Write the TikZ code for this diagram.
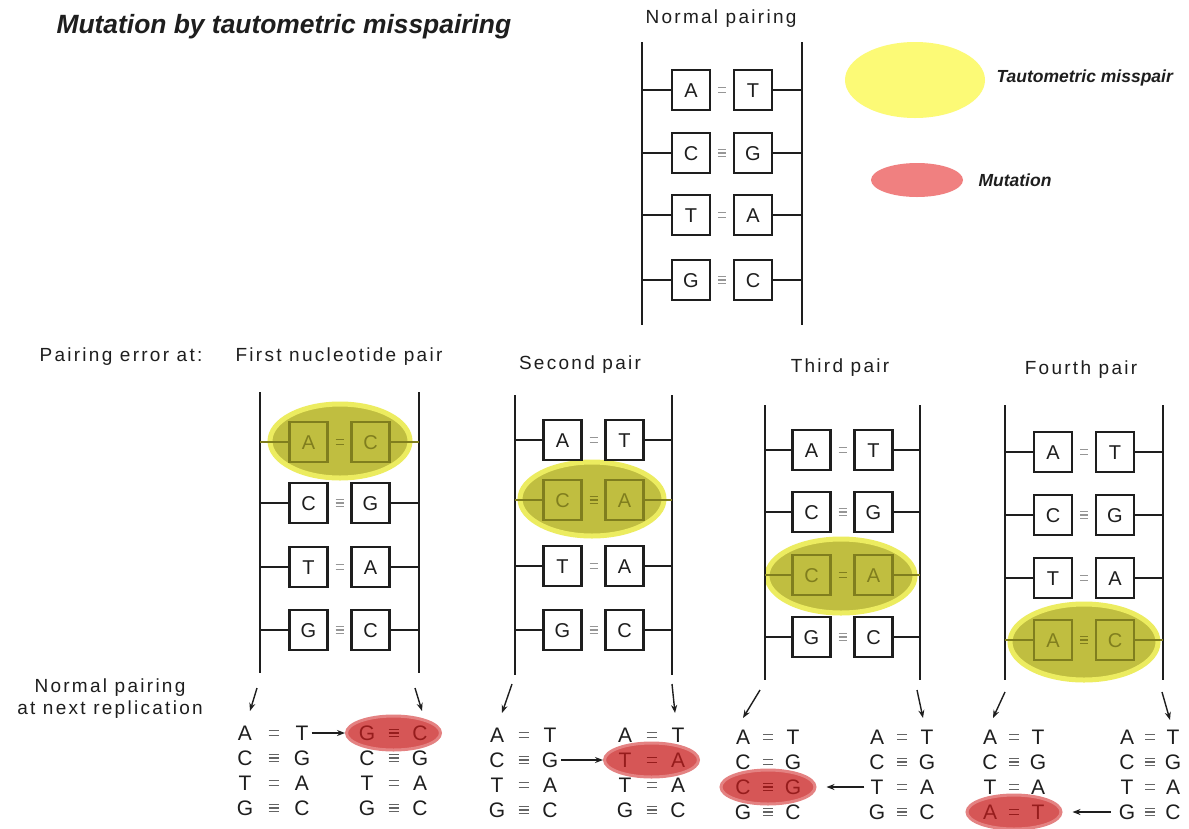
\documentclass[tikz,border=0pt]{standalone}
\usepackage{fontspec}
\setmainfont{Liberation Sans}
\newfontfamily\spaced[LetterSpace=12]{Liberation Sans}
\usetikzlibrary{calc,arrows.meta,shapes.geometric}

\definecolor{misfill}{RGB}{192,190,64}
\definecolor{misglow}{RGB}{236,236,96}
\definecolor{misink}{RGB}{128,126,30}
\definecolor{mutfill}{RGB}{214,86,86}
\definecolor{mutglow}{RGB}{228,130,130}
\definecolor{mutink}{RGB}{150,28,28}
\definecolor{legyellow}{RGB}{252,250,118}
\definecolor{legred}{RGB}{240,128,128}
\definecolor{bondgray}{RGB}{150,150,150}
\definecolor{listgray}{RGB}{100,100,100}
\definecolor{ink}{RGB}{30,30,30}

\tikzset{
  rail/.style={line width=2.6pt, draw=ink},
  rung/.style={line width=2pt},
  base/.style={draw, line width=2.2pt, minimum width=38pt, minimum height=40pt,
    inner sep=0pt, font=\fontsize{20}{20}\selectfont, text height=14.3pt, text depth=0pt},
  listletter/.style={inner sep=0pt, font=\fontsize{21}{21}\selectfont,
    text height=15pt, text depth=0pt},
  misspair/.style={ellipse, fill=misfill, draw=misglow, line width=5pt, inner sep=0pt},
  mutation/.style={ellipse, fill=mutfill, draw=mutglow, line width=3pt, inner sep=0pt,
    minimum width=94pt, minimum height=34pt},
  header/.style={font=\spaced\fontsize{19}{19}\selectfont, text=ink},
  legendtext/.style={anchor=west, font=\fontsize{17.5}{17.5}\selectfont\bfseries\itshape, text=ink},
  arr/.style={line width=1.4pt, draw=ink, -{Stealth[length=8pt,width=6pt]}},
}

% short strokes for hydrogen bonds: #1 centre, #2 number of strokes, #3 half length, #4 colour
\newcommand\bondmark[4]{%
  \ifnum#2=3
    \foreach \dy in {-3.4,0,3.4}
      \draw[#4, line width=1.3pt] ($(#1)+(-#3,\dy)$) -- ($(#1)+(#3,\dy)$);
  \else
    \foreach \dy in {-2.2,2.2}
      \draw[#4, line width=1.3pt] ($(#1)+(-#3,\dy)$) -- ($(#1)+(#3,\dy)$);
  \fi}

% ladder: #1 name, #2 left rail x, #3 right rail x, #4 top y, #5 bottom y,
% #6 rows as y/left base/right base/bonds/mispaired(0 or 1)
\newcommand\ladder[6]{%
  \coordinate (#1-lt) at (#2,#4);
  \coordinate (#1-lb) at (#2,#5);
  \coordinate (#1-rt) at (#3,#4);
  \coordinate (#1-rb) at (#3,#5);
  \draw[rail] (#1-lt) -- (#1-lb);
  \draw[rail] (#1-rt) -- (#1-rb);
  \foreach \y/\l/\r/\n/\m [count=\i] in {#6} {
    \ifnum\m=1 \def\col{misink}\def\bcol{misink}\else\def\col{ink}\def\bcol{bondgray}\fi
    \node[base, draw=\col, text=\col] (#1-\i-l) at ({(#2+#3)/2-31},\y) {\l};
    \node[base, draw=\col, text=\col] (#1-\i-r) at ({(#2+#3)/2+31},\y) {\r};
    \coordinate (#1-\i-b) at ($(#1-\i-l)!0.5!(#1-\i-r)$);
    \draw[rung, draw=\col] (#1-\i-l.west) -- (#1-\i-l.west -| #1-lt);
    \draw[rung, draw=\col] (#1-\i-r.east) -- (#1-\i-r.east -| #1-rt);
    \bondmark{#1-\i-b}{\n}{4}{\bcol}
  }}

% list of base pairs: #1 name, #2 x of left letters, #3 letter spacing, #4 y of first row,
% #5 rows as left/bonds/right/mutated(0 or 1)
\newcommand\pairlist[5]{%
  \foreach \l/\n/\r/\m [count=\i] in {#5} {
    \pgfmathsetmacro\yy{#4+(\i-1)*25}
    \ifnum\m=1
      \node[mutation] (#1-mut) at ({#2+#3/2},\yy) {};
      \def\col{mutink}\def\bcol{mutink}
    \else\def\col{ink}\def\bcol{listgray}\fi
    \node[listletter, text=\col] (#1-\i-l) at (#2,\yy) {\l};
    \node[listletter, text=\col] (#1-\i-r) at ({#2+#3},\yy) {\r};
    \coordinate (#1-\i-b) at ($(#1-\i-l)!0.5!(#1-\i-r)$);
    \bondmark{#1-\i-b}{\n}{5}{\bcol}
  }}

\begin{document}
\begin{tikzpicture}[x=1pt, y=-1pt]
  \fill[white] (0,0) rectangle (1189,828);
  \useasboundingbox (0,0) rectangle (1189,828);

  % title and legend
  \node[anchor=west, font=\fontsize{26.4}{26.4}\selectfont\bfseries\itshape, text=ink] (title)
    at (53,27) {Mutation by tautometric misspairing};
  \node[ellipse, fill=legyellow, minimum width=140pt, minimum height=76pt, inner sep=0pt]
    (legmis) at (915,80) {};
  \node[legendtext] (legmistext) at (993,78) {Tautometric misspair};
  \node[ellipse, fill=legred, minimum width=92pt, minimum height=34pt, inner sep=0pt]
    (legmut) at (917,180) {};
  \node[legendtext] (legmuttext) at (975,180) {Mutation};

  % normal pairing
  \node[header] (normaltitle) at (721,19) {Normal pairing};
  \ladder{N}{642}{802}{42}{325}{90/A/T/2/0, 153/C/G/3/0, 215/T/A/2/0, 280/G/C/3/0}

  % headings of the four cases
  \node[header] (errlabel) at (121,357) {Pairing error at:};
  \node[header] (h1) at (339,357) {First nucleotide pair};
  \node[header] (h2) at (580,365) {Second pair};
  \node[header] (h3) at (840,368) {Third pair};
  \node[header] (h4) at (1081,370) {Fourth pair};

  % misspaired rungs
  \node[misspair, minimum width=140pt, minimum height=74pt] (s1) at (340,441) {};
  \node[misspair, minimum width=144pt, minimum height=74pt] (s2) at (592,499) {};
  \node[misspair, minimum width=148pt, minimum height=74pt] (s3) at (841,576) {};
  \node[misspair, minimum width=148pt, minimum height=76pt] (s4) at (1084,642) {};

  \ladder{L1}{260}{419}{392}{673}{442/A/C/2/1, 503/C/G/3/0, 567/T/A/2/0, 630/G/C/3/0}
  \ladder{L2}{515}{672}{395}{675}{440/A/T/2/0, 500/C/A/3/1, 566/T/A/2/0, 630/G/C/3/0}
  \ladder{L3}{765}{920}{405}{680}{450/A/T/2/0, 512/C/G/3/0, 575/C/A/2/1, 637/G/C/3/0}
  \ladder{L4}{1005}{1163}{405}{680}{452/A/T/2/0, 515/C/G/3/0, 578/T/A/2/0, 640/A/C/3/1}

  % next replication
  \node[header, align=center, font=\spaced\fontsize{19}{22}\selectfont] (nextlabel)
    at (110,699) {Normal pairing\\at next replication};

  \pairlist{P1L}{245}{57}{733}{A/2/T/0, C/3/G/0, T/2/A/0, G/3/C/0}
  \pairlist{P1R}{367}{53}{733}{G/3/C/1, C/3/G/0, T/2/A/0, G/3/C/0}
  \pairlist{P2L}{497}{53}{735}{A/2/T/0, C/3/G/0, T/2/A/0, G/3/C/0}
  \pairlist{P2R}{625}{53}{735}{A/2/T/0, T/2/A/1, T/2/A/0, G/3/C/0}
  \pairlist{P3L}{743}{50}{737}{A/2/T/0, C/2/G/0, C/3/G/1, G/3/C/0}
  \pairlist{P3R}{877}{50}{737}{A/2/T/0, C/3/G/0, T/2/A/0, G/3/C/0}
  \pairlist{P4L}{990}{48}{737}{A/2/T/0, C/3/G/0, T/2/A/0, A/2/T/1}
  \pairlist{P4R}{1127}{46}{737}{A/2/T/0, C/3/G/0, T/2/A/0, G/3/C/0}

  % strands carried into the next replication
  \coordinate (a1ls) at (257,688); \coordinate (a1le) at (250,711);
  \coordinate (a1rs) at (415,688); \coordinate (a1re) at (422,711);
  \coordinate (a2ls) at (512,684); \coordinate (a2le) at (502,713);
  \coordinate (a2rs) at (672,684); \coordinate (a2re) at (675,713);
  \coordinate (a3ls) at (760,690); \coordinate (a3le) at (743,718);
  \coordinate (a3rs) at (917,690); \coordinate (a3re) at (923,718);
  \coordinate (a4ls) at (1005,692); \coordinate (a4le) at (993,718);
  \coordinate (a4rs) at (1162,692); \coordinate (a4re) at (1170,720);
  \foreach \k in {1,2,3,4} {
    \draw[arr] (a\k ls) -- (a\k le);
    \draw[arr] (a\k rs) -- (a\k re);
  }

  % changed pairs
  \draw[arr, shorten <=3pt] (P1L-1-r.east) -- (P1R-mut.west);
  \draw[arr, shorten <=3pt] (P2L-2-r.east) -- (P2R-mut.west);
  \draw[arr, shorten <=6pt, shorten >=10pt] (P3R-3-l.west) -- (P3L-mut.east);
  \draw[arr, shorten <=8pt, shorten >=10pt] (P4R-4-l.west) -- (P4L-mut.east);
\end{tikzpicture}
\end{document}
